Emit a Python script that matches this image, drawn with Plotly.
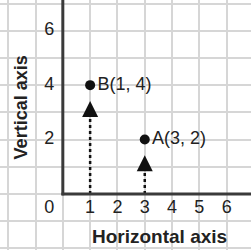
import plotly.graph_objects as go

# Data
point_names = ["A", "B"]
point_x = [3, 1]
point_y = [2, 4]
x_tick_vals = [1, 2, 3, 4, 5, 6]
y_tick_vals = [2, 4, 6]
x_title = "Horizontal axis"
y_title = "Vertical axis"

FONT = "Arial, Liberation Sans, Helvetica, sans-serif"
TXT = "#222222"
FS = 18

fig = go.Figure()

# dotted guide lines from horizontal axis up to arrowheads
for px, py in zip(point_x, point_y):
    fig.add_trace(go.Scatter(x=[px, px], y=[0, py - 0.95], mode="lines",
                             line=dict(color="#111", width=2.5, dash="dot"),
                             hoverinfo="skip", showlegend=False))
    fig.add_annotation(x=px, y=py - 0.58, ax=px, ay=py - 1.0, xref="x", yref="y",
                       axref="x", ayref="y", text="", showarrow=True,
                       arrowhead=2, arrowsize=1.6, arrowwidth=2, arrowcolor="#111",
                       standoff=0, startstandoff=0)

# points with labels
fig.add_trace(go.Scatter(x=point_x, y=point_y, mode="markers+text",
                         marker=dict(color="#111", size=10),
                         text=[f"{n}({a}, {b})" for n, a, b in zip(point_names, point_x, point_y)],
                         textposition="middle right",
                         textfont=dict(family=FONT, size=FS, color=TXT),
                         hoverinfo="skip", showlegend=False))

# tick labels placed in cells
fig.add_trace(go.Scatter(x=x_tick_vals, y=[-0.55] * len(x_tick_vals), mode="text",
                         text=[str(v) for v in x_tick_vals],
                         textfont=dict(family=FONT, size=FS, color=TXT),
                         hoverinfo="skip", showlegend=False))
fig.add_trace(go.Scatter(x=[-0.5] * len(y_tick_vals), y=y_tick_vals, mode="text",
                         text=[str(v) for v in y_tick_vals],
                         textfont=dict(family=FONT, size=FS, color=TXT),
                         hoverinfo="skip", showlegend=False))
fig.add_trace(go.Scatter(x=[-0.5], y=[-0.55], mode="text", text=["0"],
                         textfont=dict(family=FONT, size=FS, color=TXT),
                         hoverinfo="skip", showlegend=False))

# axis titles
fig.add_annotation(x=3.55, y=-1.58, xref="x", yref="y", text=f"<b>{x_title}</b>",
                   showarrow=False, font=dict(family=FONT, size=19, color=TXT))
fig.add_annotation(x=-1.55, y=3.2, xref="x", yref="y", text=f"<b>{y_title}</b>",
                   showarrow=False, textangle=-90,
                   font=dict(family=FONT, size=FS, color=TXT))

# main axes
fig.add_shape(type="line", x0=0, x1=0, y0=-0.05, y1=7.5, xref="x", yref="y",
              line=dict(color="#3a3a3a", width=3), layer="above")
fig.add_shape(type="line", x0=-0.05, x1=7.5, y0=0, y1=0, xref="x", yref="y",
              line=dict(color="#3a3a3a", width=3), layer="above")

fig.update_xaxes(range=[-2.3, 6.89], dtick=1, tick0=0, showgrid=True,
                 gridcolor="#d6d6d6", gridwidth=2, zeroline=False,
                 showticklabels=False, ticks="", showline=False, fixedrange=True)
fig.update_yaxes(range=[-2.06, 7.13], dtick=1, tick0=0, showgrid=True,
                 gridcolor="#d6d6d6", gridwidth=2, zeroline=False,
                 showticklabels=False, ticks="", showline=False, fixedrange=True)

fig.update_layout(width=251, height=250, margin=dict(l=0, r=0, t=0, b=0),
                  paper_bgcolor="white", plot_bgcolor="white")

fig.write_html("out.html", config={"displayModeBar": False},
               post_script="document.body.style.margin='0';document.body.style.overflow='hidden';")
